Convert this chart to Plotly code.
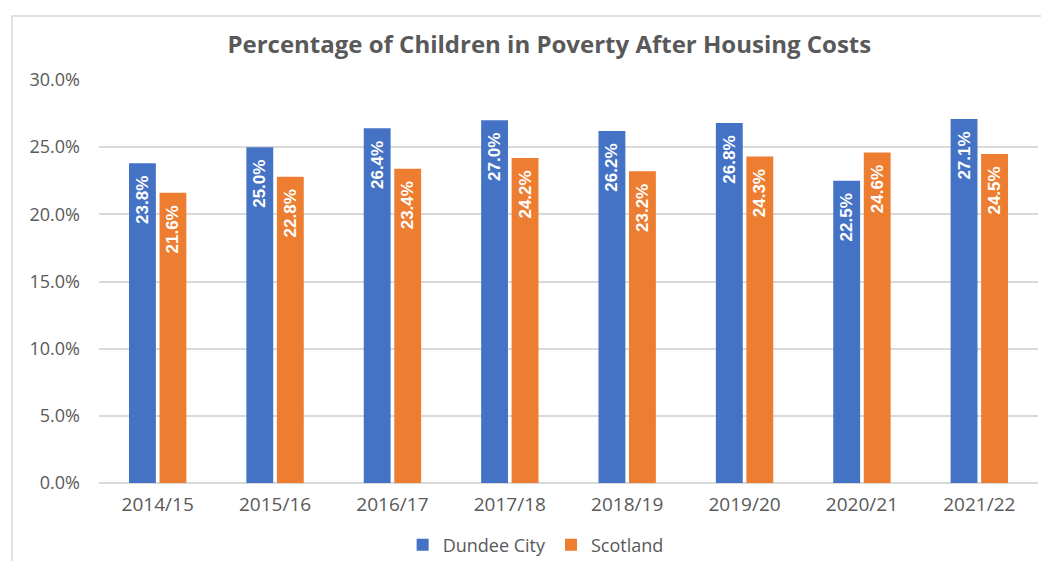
import plotly.graph_objects as go

years = ["2014/15", "2015/16", "2016/17", "2017/18", "2018/19", "2019/20", "2020/21", "2021/22"]
dundee = [23.8, 25.0, 26.4, 27.0, 26.2, 26.8, 22.5, 27.1]
scotland = [21.6, 22.8, 23.4, 24.2, 23.2, 24.3, 24.6, 24.5]

grey = "#595959"
label_font = dict(family="Liberation Sans Narrow, Liberation Sans, Arial", size=17, color="white")

# page body has an 8px margin, so the figure is sized to the remaining viewport
W, H = 1041, 553

fig = go.Figure()
for name, vals, colour in [("Dundee City", dundee, "#4472C4"), ("Scotland", scotland, "#ED7D31")]:
    fig.add_trace(go.Bar(
        x=years, y=vals, name=name, marker=dict(color=colour, line=dict(width=0)),
        texttemplate="<b>%{y:.1f}%</b>\u00a0\u00a0", textposition="inside", insidetextanchor="end",
        textangle=-90, textfont=label_font, cliponaxis=False,
    ))

fig.update_layout(
    width=W, height=H,
    margin=dict(l=91, r=11, t=72, b=78, autoexpand=False),
    paper_bgcolor="white", plot_bgcolor="white",
    barmode="group", bargap=0.48, bargroupgap=0.12,
    title=dict(text="<b>Percentage of Children in Poverty After Housing Costs</b>",
               x=0.52, xanchor="center", y=1 - 37 / H, yanchor="middle",
               font=dict(family="Open Sans, Liberation Sans", size=24, color=grey)),
    font=dict(family="Open Sans, Liberation Sans", color=grey),
    legend=dict(orientation="h", x=0.465, xanchor="center", yref="container",
                y=1 - 537 / H, yanchor="middle",
                font=dict(size=18, color=grey), traceorder="normal"),
    showlegend=True,
)
fig.update_yaxes(range=[0, 30], dtick=5, tickformat=".1f", ticksuffix="%",
                 showgrid=True, gridcolor="#d9d9d9", gridwidth=1.5, zeroline=True,
                 zerolinecolor="#d9d9d9", zerolinewidth=1.5, showline=False,
                 ticklabelstandoff=18, tickfont=dict(size=18, color=grey), automargin=False)
fig.update_xaxes(showline=False, ticks="", tickfont=dict(size=19, color=grey),
                 ticklabelstandoff=8, automargin=False)

# outer chart frame (partly cropped in the reference)
fig.add_shape(type="rect", xref="paper", yref="paper",
              x0=-0.0927, x1=1.3, y0=-0.5, y1=1.159,
              line=dict(color="#d9d9d9", width=1.5), fillcolor="rgba(0,0,0,0)", layer="below")

fig.write_html("out.html")
